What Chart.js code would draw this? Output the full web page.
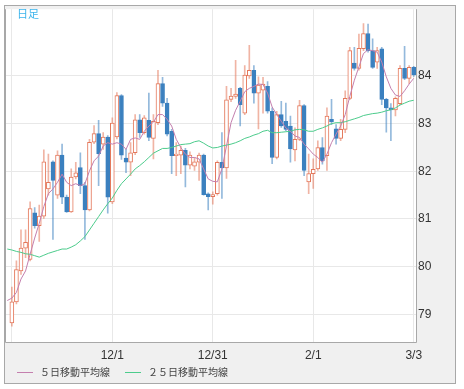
<!DOCTYPE html>
<html>
<head>
<meta charset="utf-8">
<script src="https://cdn.jsdelivr.net/npm/chart.js@4"></script>
<style>html,body{margin:0;padding:0;background:#fff;}</style>
</head>
<body>
<canvas id="myChart" width="464" height="389"></canvas>
<script>
var dates = ["10/29",
  "11/1","11/2","11/3","11/4","11/5","11/8","11/9","11/10","11/11","11/12","11/15","11/16","11/17","11/18","11/19","11/22","11/23","11/24","11/25","11/26","11/29","11/30",
  "12/1","12/2","12/3","12/6","12/7","12/8","12/9","12/10","12/13","12/14","12/15","12/16","12/17","12/20","12/21","12/22","12/23","12/24","12/27","12/28","12/29","12/30","12/31",
  "1/3","1/4","1/5","1/6","1/7","1/10","1/11","1/12","1/13","1/14","1/17","1/18","1/19","1/20","1/21","1/24","1/25","1/26","1/27","1/28","1/31",
  "2/1","2/2","2/3","2/4","2/7","2/8","2/9","2/10","2/11","2/14","2/15","2/16","2/17","2/18","2/21","2/22","2/23","2/24","2/25","2/28",
  "3/1","3/2","3/3"];
var gridDates = ["11/1", "12/1", "12/31", "2/1", "3/3"];
var xLabels = ["12/1", "12/31", "2/1", "3/3"];
var yTicks = [79, 80, 81, 82, 83, 84];

var opens = [null,
  78.82,79.26,79.91,80.39,80.15,81.13,80.86,81.06,81.63,82.2,
  81.5,82.34,81.46,81.15,81.88,82.08,81.7,81.19,82.61,82.79,
  82.57,82.72,81.36,82.72,83.59,82.28,82.19,82.39,83.08,82.81,
  83.07,82.69,83.02,83.84,83.43,82.84,82.33,82.34,82.44,82.13,
  82.11,82.19,82.34,81.53,81.47,81.53,82.19,82.07,83.51,83.57,
  83.74,83.22,84.0,84.12,83.64,83.7,83.78,83.26,82.29,83.19,
  83.05,82.95,82.45,82.67,83.38,81.78,81.95,82.05,82.5,82.33,
  83.09,82.89,82.69,82.88,83.53,84.27,84.16,84.57,84.89,84.53,
  84.29,84.57,83.51,83.33,83.29,83.42,84.16,83.95,84.18];
var highs = [null,
  79.57,80.12,80.77,80.77,81.36,81.24,81.29,82.45,82.36,82.22,
  82.43,82.57,81.5,82.05,82.19,82.39,81.77,82.67,82.96,83.07,
  82.81,82.75,83.12,83.65,83.61,82.46,82.6,83.19,83.19,83.17,
  83.64,83.19,84.12,83.97,83.53,82.88,82.6,82.53,82.48,82.41,
  82.29,82.38,82.36,81.55,81.57,82.22,82.81,83.78,83.74,84.33,
  83.76,84.22,84.64,84.22,83.98,83.97,83.88,83.33,83.26,83.47,
  83.43,83.16,82.91,83.49,83.4,82.36,82.26,82.64,82.71,83.33,
  83.51,82.98,83.09,83.69,84.6,84.6,84.88,85.1,85.09,84.78,
  84.6,84.6,83.53,83.42,83.56,84.22,84.62,84.22,84.2];
var lows = [null,
  78.75,79.22,79.84,80.19,80.12,80.81,80.53,81.01,81.5,80.57,
  81.43,81.32,81.14,81.14,81.84,81.53,80.57,81.17,82.58,81.7,
  82.46,81.12,81.32,82.68,82.25,81.97,81.91,82.35,82.71,82.78,
  82.64,82.26,82.98,83.36,82.74,81.95,81.91,81.95,81.67,82.05,
  82.02,81.81,81.5,81.19,81.31,81.5,81.43,81.85,83.46,83.53,
  82.95,83.19,83.95,83.43,82.89,83.22,83.22,82.16,82.26,82.92,
  82.85,82.19,82.22,82.64,81.91,81.53,81.64,82.02,82.15,82.02,
  82.98,82.57,82.64,82.81,83.5,84.12,84.12,84.53,84.5,84.16,
  84.16,83.4,82.82,82.64,83.16,83.4,83.92,83.84,83.99];
var closes = [null,
  79.26,79.94,80.39,80.51,81.22,80.86,81.06,82.2,81.77,81.81,
  82.34,81.46,81.15,81.88,81.97,81.7,81.19,82.61,82.79,82.37,
  82.72,81.46,83.01,83.59,82.34,82.19,82.39,83.08,82.81,83.12,
  82.71,83.05,83.84,83.43,82.78,82.33,82.36,82.44,82.13,82.34,
  82.2,82.34,81.51,81.47,81.51,82.19,82.07,83.5,83.58,83.62,
  83.4,84.02,84.12,83.64,83.81,83.83,83.26,82.29,83.19,82.95,
  82.88,82.47,82.67,83.38,82.02,81.95,82.04,82.5,82.22,83.16,
  83.04,82.69,82.88,83.53,84.53,84.16,84.58,84.89,84.53,84.18,
  84.53,83.51,83.33,83.29,83.53,84.16,83.95,84.18,84.02];
var ma5 = [79.29,79.34,79.46,79.74,79.91,80.26,80.6,80.91,81.26,81.53,
  81.63,81.77,81.94,81.77,81.7,81.74,81.7,81.74,82.01,82.22,
  82.32,82.53,82.6,82.57,82.6,82.57,82.46,82.67,82.7,82.67,
  82.84,82.95,83.03,83.19,83.19,83.09,82.95,82.67,82.5,82.36,
  82.29,82.29,82.26,82.05,81.84,81.79,81.78,82.05,82.53,83.02,
  83.28,83.47,83.67,83.74,83.78,83.83,83.82,83.64,83.35,83.19,
  83.05,82.91,82.84,82.74,82.71,82.57,82.47,82.36,82.29,82.19,
  82.36,82.6,82.78,82.95,83.19,83.57,83.91,84.19,84.47,84.55,
  84.53,84.5,84.29,83.98,83.74,83.6,83.57,83.69,83.83,83.95];
var ma25 = [80.37,80.35,80.32,80.3,80.27,80.26,80.23,80.2,80.24,80.28,
  80.31,80.34,80.37,80.37,80.41,80.46,80.54,80.63,80.77,80.91,
  81.05,81.19,81.32,81.44,81.6,81.74,81.84,81.94,82.05,82.12,
  82.2,82.29,82.38,82.43,82.48,82.48,82.5,82.53,82.56,82.57,
  82.58,82.62,82.64,82.59,82.53,82.49,82.5,82.53,82.55,82.57,
  82.6,82.64,82.69,82.72,82.76,82.79,82.84,82.86,82.81,82.81,
  82.82,82.83,82.84,82.87,82.88,82.87,82.84,82.84,82.88,82.91,
  82.95,83.0,83.02,83.02,83.04,83.07,83.1,83.13,83.17,83.19,
  83.21,83.22,83.24,83.27,83.29,83.33,83.39,83.43,83.47,83.49];

var upColor = '#e4775a', upWick = 'rgba(228,119,90,0.55)';
var downColor = '#3b80bf', downWick = 'rgba(59,128,191,0.55)';

function isUp(i) { return closes[i] >= opens[i]; }

var bodies = opens.map(function (o, i) {
  return o == null ? null : [Math.min(o, closes[i]), Math.max(o, closes[i])];
});
var wicks = lows.map(function (l, i) {
  return l == null ? null : [l, highs[i]];
});

// grey frame, plot border, "日足" caption and the MA legend
var frame = {
  id: 'frame',
  beforeDraw: function (chart) {
    var c = chart.ctx, a = chart.chartArea;
    c.save();
    c.fillStyle = '#fff';
    c.fillRect(0, 0, chart.width, chart.height);
    c.fillStyle = '#f0f0f0';
    c.fillRect(4, 5, 451, 378);
    c.fillStyle = '#fff';
    c.fillRect(a.left, a.top, a.right - a.left, a.bottom - a.top);
    c.restore();
  },
  afterDraw: function (chart) {
    var c = chart.ctx, a = chart.chartArea;
    c.save();
    c.strokeStyle = '#a8a8a8';
    c.lineWidth = 1;
    c.strokeRect(4.5, 5.5, 451, 378);
    c.beginPath();
    c.moveTo(a.left + 0.5, a.top);
    c.lineTo(a.left + 0.5, a.bottom + 0.5);
    c.lineTo(a.right + 0.5, a.bottom + 0.5);
    c.lineTo(a.right + 0.5, a.top);
    c.stroke();

    c.fillStyle = '#3db4ec';
    c.font = '11px "Noto Sans CJK JP"';
    c.textBaseline = 'middle';
    c.fillText('日足', 17, 14);

    c.font = '10px "Noto Sans CJK JP"';
    var x = 17, y = 372.5;
    chart.data.datasets.slice(0, 2).forEach(function (ds) {
      c.strokeStyle = ds.borderColor;
      c.beginPath();
      c.moveTo(x, y);
      c.lineTo(x + 16, y);
      c.stroke();
      c.fillStyle = '#444';
      c.fillText(ds.label, x + 23, y);
      x += 23 + c.measureText(ds.label).width + 15;
    });
    c.restore();
  }
};

var ctx = document.getElementById('myChart').getContext('2d');
var myChart = new Chart(ctx, {
  type: 'bar',
  data: {
    labels: dates,
    datasets: [{
      type: 'line',
      label: '５日移動平均線',
      data: ma5,
      borderColor: '#c47fae',
      borderWidth: 1,
      pointRadius: 0,
      order: 0
    }, {
      type: 'line',
      label: '２５日移動平均線',
      data: ma25,
      borderColor: '#4ccc8c',
      borderWidth: 1,
      pointRadius: 0,
      order: 0
    }, {
      label: 'body',
      data: bodies,
      grouped: false,
      barThickness: 4,
      borderWidth: 1,
      borderSkipped: false,
      backgroundColor: function (c) { return isUp(c.dataIndex) ? '#fff' : downColor; },
      borderColor: function (c) { return isUp(c.dataIndex) ? upColor : downColor; },
      order: 1
    }, {
      label: 'wick',
      data: wicks,
      grouped: false,
      barThickness: 1,
      borderWidth: 0,
      backgroundColor: function (c) { return isUp(c.dataIndex) ? upWick : downWick; },
      order: 2
    }]
  },
  options: {
    responsive: false,
    animation: false,
    layout: { padding: { left: 5, top: 6, right: 9, bottom: 6 } },
    plugins: {
      tooltip: { enabled: false },
      legend: { display: false }
    },
    scales: {
      x: {
        offset: true,
        afterFit: function (s) { s.height = 41; },
        afterBuildTicks: function (s) {
          s.ticks = gridDates.map(function (d) { return { value: dates.indexOf(d) }; });
        },
        grid: { offset: false, color: '#e8e8e8', drawTicks: false },
        border: { display: false },
        ticks: {
          autoSkip: false,
          maxRotation: 0,
          padding: 6,
          color: '#333',
          font: { family: '"Liberation Sans"', size: 12 },
          callback: function (v) {
            var d = this.getLabelForValue(v);
            return xLabels.indexOf(d) >= 0 ? d : '';
          }
        }
      },
      y: {
        position: 'right',
        min: 78.42,
        max: 85.4,
        afterFit: function (s) { s.width = 39; },
        afterBuildTicks: function (s) {
          s.ticks = yTicks.map(function (v) { return { value: v }; });
        },
        grid: { color: '#e8e8e8', drawTicks: false },
        border: { display: false },
        ticks: {
          padding: 2,
          color: '#333',
          font: { family: '"Liberation Sans"', size: 12 }
        }
      }
    }
  },
  plugins: [frame]
});
</script>
</body>
</html>
